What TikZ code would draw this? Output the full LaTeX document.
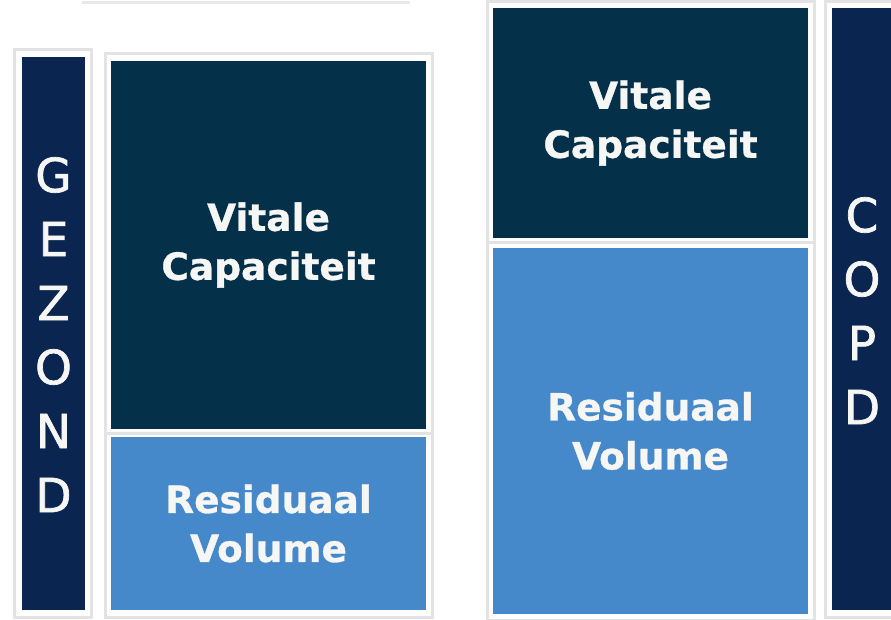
\documentclass[tikz,border=0pt]{standalone}
\usepackage{fontspec}
\setmainfont{DejaVu Sans}
\newfontfamily\letterfont[FakeBold=1.5]{DejaVu Sans}
\newfontfamily\blockfont[FakeBold=0.8]{DejaVu Sans Bold}
\definecolor{vcdark}{HTML}{04304A}
\definecolor{barnavy}{HTML}{0A2550}
\definecolor{rvblue}{HTML}{4689CB}
\definecolor{txtwhite}{HTML}{F6F6F4}
\begin{document}
\begin{tikzpicture}[x=1pt,y=-1pt,
  card/.style={draw=black!11, line width=3pt, fill=white},
  blk/.style={inner sep=0pt, text=txtwhite, align=center,
    font=\blockfont\fontsize{37.5}{49}\selectfont},
  barbox/.style={inner sep=0pt, fill=barnavy},
  letter/.style={text=txtwhite, inner sep=0pt, font=\letterfont\fontsize{47}{47}\selectfont}]
\useasboundingbox[fill=white] (0,0) rectangle (891,620);
\draw[black!9, line width=3pt] (82,3) -- (410,3);
% cards (soft frames)
\draw[card] (14,50) rectangle (91,617);
\draw[card] (105,54) rectangle (432,433);
\draw[card] (105,433) rectangle (432,617);
\draw[card] (487,2) rectangle (814,243);
\draw[card] (487,243) rectangle (814,620);
\draw[card] (825,2) rectangle (905,617);
% left column
\node[barbox, minimum width=63pt, minimum height=553pt] (gbar) at (53.5,333.5) {};
\node[blk, fill=vcdark, minimum width=315pt, minimum height=368pt] (gvc) at (268.5,245) {Vitale\\Capaciteit};
\node[blk, fill=rvblue, minimum width=315pt, minimum height=173pt] (grv) at (268.5,523.5) {Residuaal\\Volume};
\foreach \l [count=\i] in {G,E,Z,O,N,D}
  \node[letter] (g\i) at (53.5,{175+64*(\i-1)}) {\l};
% right column
\node[blk, fill=vcdark, minimum width=315pt, minimum height=230pt] (cvc) at (650.5,123) {Vitale\\Capaciteit};
\node[blk, fill=rvblue, minimum width=315pt, minimum height=366pt] (crv) at (650.5,431) {Residuaal\\Volume};
\node[barbox, minimum width=60pt, minimum height=602pt] (cbar) at (862,309) {};
\foreach \l [count=\i] in {C,O,P,D}
  \node[letter] (c\i) at (862,{215+64*(\i-1)}) {\l};
\end{tikzpicture}
\end{document}
